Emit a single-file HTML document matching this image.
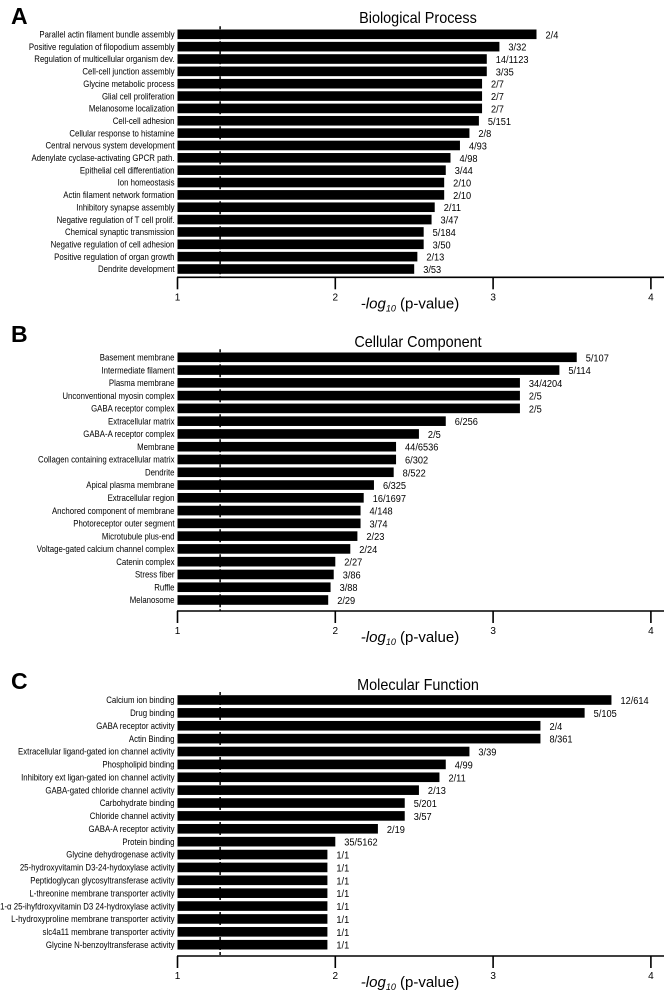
<!DOCTYPE html>
<html><head><meta charset="utf-8"><style>
html,body{margin:0;padding:0;background:#fff}
svg{display:block}
text{font-family:"Liberation Sans",Arial,sans-serif;fill:#000}
</style></head><body>
<svg id="chart" width="664" height="992" viewBox="0 0 664 992" xmlns="http://www.w3.org/2000/svg"></svg>
<script>
const bpTerms=["Parallel actin filament bundle assembly","Positive regulation of filopodium assembly","Regulation of multicellular organism dev.","Cell-cell junction assembly","Glycine metabolic process","Glial cell proliferation","Melanosome localization","Cell-cell adhesion","Cellular response to histamine","Central nervous system development","Adenylate cyclase-activating GPCR path.","Epithelial cell differentiation","Ion homeostasis","Actin filament network formation","Inhibitory synapse assembly","Negative regulation of T cell prolif.","Chemical synaptic transmission","Negative regulation of cell adhesion","Positive regulation of organ growth","Dendrite development"];
const bpValues=[3.275,3.04,2.96,2.96,2.93,2.93,2.93,2.91,2.85,2.79,2.73,2.70,2.69,2.69,2.63,2.61,2.56,2.56,2.52,2.50];
const bpCounts=["2/4","3/32","14/1123","3/35","2/7","2/7","2/7","5/151","2/8","4/93","4/98","3/44","2/10","2/10","2/11","3/47","5/184","3/50","2/13","3/53"];
const ccTerms=["Basement membrane","Intermediate filament","Plasma membrane","Unconventional myosin complex","GABA receptor complex","Extracellular matrix","GABA-A receptor complex","Membrane","Collagen containing extracellular matrix","Dendrite","Apical plasma membrane","Extracellular region","Anchored component of membrane","Photoreceptor outer segment","Microtubule plus-end","Voltage-gated calcium channel complex","Catenin complex","Stress fiber","Ruffle","Melanosome"];
const ccValues=[3.53,3.42,3.17,3.17,3.17,2.70,2.53,2.385,2.385,2.37,2.245,2.18,2.16,2.16,2.14,2.095,2.00,1.99,1.97,1.955];
const ccCounts=["5/107","5/114","34/4204","2/5","2/5","6/256","2/5","44/6536","6/302","8/522","6/325","16/1697","4/148","3/74","2/23","2/24","2/27","3/86","3/88","2/29"];
const mfTerms=["Calcium ion binding","Drug binding","GABA receptor activity","Actin Binding","Extracellular ligand-gated ion channel activity","Phospholipid binding","Inhibitory ext ligan-gated ion channel activity","GABA-gated chloride channel activity","Carbohydrate binding","Chloride channel activity","GABA-A receptor activity","Protein binding","Glycine dehydrogenase activity","25-hydroxyvitamin D3-24-hydoxylase activity","Peptidoglycan glycosyltransferase activity","L-threonine membrane transporter activity","1-\u03b1 25-ihyfdroxyvitamin D3 24-hydroxylase activity","L-hydroxyproline membrane transporter activity","slc4a11 membrane transporter activity","Glycine N-benzoyltransferase activity"];
const mfValues=[3.75,3.58,3.30,3.30,2.85,2.70,2.66,2.53,2.44,2.44,2.27,2.00,1.95,1.95,1.95,1.95,1.95,1.95,1.95,1.95];
const mfCounts=["12/614","5/105","2/4","8/361","3/39","4/99","2/11","2/13","5/201","3/57","2/19","35/5162","1/1","1/1","1/1","1/1","1/1","1/1","1/1","1/1"];
const xTicks=[1,2,3,4];
const sigThreshold=1.27;

const NS="http://www.w3.org/2000/svg";
const svg=document.getElementById('chart');
function el(tag,attrs,parent){const e=document.createElementNS(NS,tag);for(const k in attrs)e.setAttribute(k,attrs[k]);(parent||svg).appendChild(e);return e;}
const X0=177.5, UNIT=157.8;
function xs(v){return X0+(v-1)*UNIT;}

const panels=[
 {letter:"A",title:"Biological Process",terms:bpTerms,values:bpValues,counts:bpCounts,top:0,first:34.3,last:269,axis:277.3,titleY:23},
 {letter:"B",title:"Cellular Component",terms:ccTerms,values:ccValues,counts:ccCounts,top:318,first:357.3,last:600,axis:611,titleY:347},
 {letter:"C",title:"Molecular Function",terms:mfTerms,values:mfValues,counts:mfCounts,top:665,first:700,last:944.7,axis:956,titleY:690}
];
panels.forEach((p,pi)=>{
 const key=["bp","cc","mf"][pi];
 const g=el('g',{});
 
 
 const L=el('text',{x:11,y:p.top+24,'font-size':23,'font-weight':'bold'},g);L.textContent=p.letter;
 
 
 const T=el('text',{transform:`translate(418,${p.titleY}) scale(0.93,1)`,'font-size':15.5,'text-anchor':'middle'},g);T.textContent=p.title;
 
 
 const n=p.terms.length, step=(p.last-p.first)/(n-1);
 const yc=i=>p.first+i*step;
 const d=el('line',{x1:xs(sigThreshold),x2:xs(sigThreshold),y1:yc(0)-8,y2:p.axis,stroke:'#000','stroke-width':1.5,'stroke-dasharray':'3,2'},g);
 
 
 p.terms.forEach((t,i)=>{
  const y=yc(i);
  const r=el('rect',{x:X0,y:y-4.8,width:xs(p.values[i])-X0,height:9.6,fill:'#000'},g);
  
  
  const lb=el('text',{transform:`translate(174.5,${y+3.2}) scale(0.87,1)`,'font-size':9,'text-anchor':'end'},g);lb.textContent=t;
  
  
  const c=el('text',{transform:`translate(${xs(p.values[i])+9},${y+4}) scale(0.88,1)`,'font-size':10.5},g);c.textContent=p.counts[i];
  
  
 });
 const ax=el('line',{x1:X0-0.5,x2:664,y1:p.axis,y2:p.axis,stroke:'#000','stroke-width':1.6},g);
 
 
 xTicks.forEach(v=>{
  const tk=el('line',{x1:xs(v),x2:xs(v),y1:p.axis,y2:p.axis+12,stroke:'#000','stroke-width':1.6},g);
  
  
  const tl=el('text',{x:xs(v),y:p.axis+23,'font-size':10,'text-anchor':'middle'},g);tl.textContent=v;
  
  
 });
 const at=el('text',{x:410,y:p.axis+31,'font-size':15,'text-anchor':'middle'},g);
 
 
 const s1=el('tspan',{'font-style':'italic'},at);s1.textContent='-log';
 const s2=el('tspan',{'font-style':'italic','font-size':9,dy:3},at);s2.textContent='10';
 const s3=el('tspan',{dy:-3},at);s3.textContent=' (p-value)';
});
</script>
</body></html>
